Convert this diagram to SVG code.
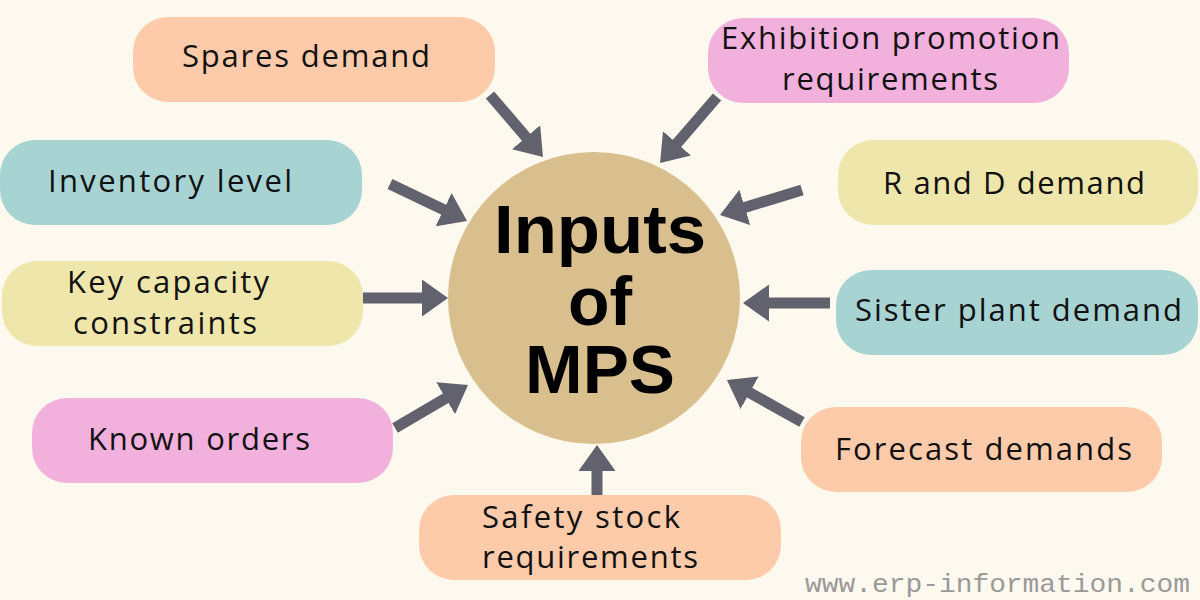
<svg xmlns="http://www.w3.org/2000/svg" width="1200" height="600" viewBox="0 0 1200 600">
<style>
.box{stroke:none}
.peach{fill:#FDCBAA}
.pink{fill:#F2B0DC}
.teal{fill:#A8D3D3}
.yellow{fill:#EEE6AA}
.lbl{font-family:"Open Sans","Liberation Sans",sans-serif;font-size:31px;fill:#111111}
.title{font-family:"Liberation Sans",Arial,sans-serif;font-weight:bold;font-size:68px;fill:#000000;text-anchor:middle}
.conn line{stroke:#62616E;stroke-width:11;marker-end:url(#ah)}
.wm{font-family:"Liberation Mono","DejaVu Sans Mono",monospace;font-size:25px;fill:#9A9A9A}
</style>
<defs>
<marker id="ah" markerUnits="userSpaceOnUse" viewBox="0 0 26 37" markerWidth="26" markerHeight="37" refX="6" refY="18.5" orient="auto">
<path d="M0,0 L26,18.5 L0,37 Z" fill="#62616E"/>
</marker>
</defs>
<rect x="0" y="0" width="1200" height="600" fill="#FEF9EE"/>

<g id="center">
<circle cx="594" cy="298" r="146" fill="#D8BF8D"/>
<text class="title" x="600" y="253" textLength="212" lengthAdjust="spacingAndGlyphs">Inputs</text>
<text class="title" x="600" y="325">of</text>
<text class="title" x="600" y="393" textLength="150" lengthAdjust="spacingAndGlyphs">MPS</text>
</g>

<g id="connectors" class="conn">
<line x1="490" y1="95" x2="530" y2="141.8"/>
<line x1="717" y1="97" x2="673.1" y2="147.9"/>
<line x1="390" y1="184" x2="449" y2="212.3"/>
<line x1="363" y1="298" x2="428" y2="298"/>
<line x1="395" y1="428" x2="450.8" y2="395.2"/>
<line x1="802" y1="190" x2="739.1" y2="209.2"/>
<line x1="830" y1="303" x2="763" y2="303"/>
<line x1="802" y1="422" x2="744.4" y2="389.8"/>
<line x1="597" y1="495" x2="597" y2="465"/>
</g>

<g id="spares">
<rect class="box peach" x="133" y="17" width="362" height="85" rx="35"/>
<text class="lbl" x="182" y="67" textLength="248" lengthAdjust="spacing">Spares demand</text>
</g>
<g id="exhibition">
<rect class="box pink" x="708" y="18" width="361" height="85" rx="35"/>
<text class="lbl" x="721" y="49" textLength="339" lengthAdjust="spacing">Exhibition promotion</text>
<text class="lbl" x="782" y="90" textLength="216" lengthAdjust="spacing">requirements</text>
</g>
<g id="inventory">
<rect class="box teal" x="0" y="140" width="362" height="85" rx="35"/>
<text class="lbl" x="48" y="192" textLength="244" lengthAdjust="spacing">Inventory level</text>
</g>
<g id="keycapacity">
<rect class="box yellow" x="2" y="261" width="361" height="85" rx="35"/>
<text class="lbl" x="67" y="293" textLength="202" lengthAdjust="spacing">Key capacity</text>
<text class="lbl" x="73" y="334" textLength="184" lengthAdjust="spacing">constraints</text>
</g>
<g id="known">
<rect class="box pink" x="32" y="398" width="361" height="85" rx="35"/>
<text class="lbl" x="88" y="450" textLength="222" lengthAdjust="spacing">Known orders</text>
</g>
<g id="randd">
<rect class="box yellow" x="838" y="140" width="360" height="85" rx="35"/>
<text class="lbl" x="883" y="194" textLength="262" lengthAdjust="spacing">R and D demand</text>
</g>
<g id="sister">
<rect class="box teal" x="836" y="270" width="362" height="85" rx="35"/>
<text class="lbl" x="855" y="321" textLength="327" lengthAdjust="spacing">Sister plant demand</text>
</g>
<g id="forecast">
<rect class="box peach" x="801" y="407" width="361" height="85" rx="35"/>
<text class="lbl" x="835" y="460" textLength="297" lengthAdjust="spacing">Forecast demands</text>
</g>
<g id="safety">
<rect class="box peach" x="419" y="495" width="362" height="85" rx="35"/>
<text class="lbl" x="482" y="528" textLength="198" lengthAdjust="spacing">Safety stock</text>
<text class="lbl" x="482" y="568" textLength="216" lengthAdjust="spacing">requirements</text>
</g>

<text class="wm" x="805" y="592" textLength="385" lengthAdjust="spacingAndGlyphs">www.erp-information.com</text>
</svg>
